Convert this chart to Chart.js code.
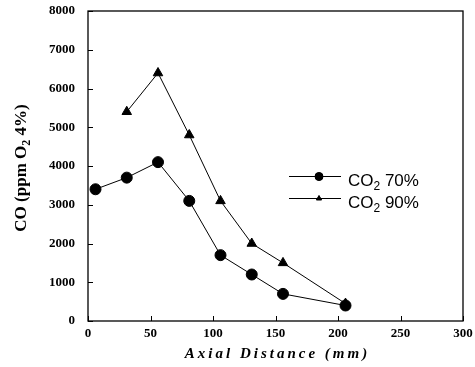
<!DOCTYPE html>
<html>
<head>
<meta charset="utf-8">
<script src="https://cdn.jsdelivr.net/npm/chart.js@4/dist/chart.umd.min.js"></script>
<style>
  html, body { margin: 0; padding: 0; background: #fff; }
  #wrap { width: 475px; height: 367px; }
</style>
</head>
<body>
<div id="wrap"><canvas id="coChart" width="475" height="367"></canvas></div>
<script>
// axial positions (mm) and CO readings (ppm, O2 4%)
const distance = [6, 31, 56, 81, 106, 131, 156, 206];
const co70 = [3400, 3700, 4100, 3100, 1700, 1200, 700, 400];
const distance90 = [31, 56, 81, 106, 131, 156, 206];
const co90 = [5400, 6400, 4800, 3100, 2000, 1500, 450];
const seriesNames = ["CO2 70%", "CO2 90%"];
const xTicks = [0, 50, 100, 150, 200, 250, 300];
const yTicks = [0, 1000, 2000, 3000, 4000, 5000, 6000, 7000, 8000];

const serif = "'Liberation Serif', 'DejaVu Serif', serif";
const sans = "'Liberation Sans', Arial, sans-serif";

function toPoints(xs, ys) {
  return xs.map((x, i) => ({ x: x, y: ys[i] }));
}

// draws "CO2 ..." style text with the 2 lowered as subscript
function subText(ctx, x, y, pre, sub, post, size, family, weight) {
  ctx.font = weight + " " + size + "px " + family;
  ctx.fillText(pre, x, y);
  x += ctx.measureText(pre).width;
  ctx.font = weight + " " + Math.round(size * 0.72) + "px " + family;
  ctx.fillText(sub, x, y + size * 0.22);
  x += ctx.measureText(sub).width;
  ctx.font = weight + " " + size + "px " + family;
  ctx.fillText(post, x, y);
  return x + ctx.measureText(post).width;
}

const framePlugin = {
  id: "frame",
  afterDraw(chart) {
    const ctx = chart.ctx;
    const a = chart.chartArea;
    const xs = chart.scales.x, ys = chart.scales.y;
    ctx.save();
    ctx.strokeStyle = "#000";
    ctx.lineWidth = 1.3;
    ctx.strokeRect(a.left, a.top, a.right - a.left, a.bottom - a.top);

    // inward tick marks
    ctx.lineWidth = 1;
    ctx.beginPath();
    xTicks.forEach(v => {
      const px = Math.round(xs.getPixelForValue(v)) + 0.5;
      ctx.moveTo(px, a.bottom);
      ctx.lineTo(px, a.bottom - 5);
    });
    yTicks.forEach(v => {
      const py = Math.round(ys.getPixelForValue(v)) + 0.5;
      ctx.moveTo(a.left, py);
      ctx.lineTo(a.left + 5, py);
    });
    ctx.stroke();

    // axis titles
    ctx.fillStyle = "#000";
    ctx.textBaseline = "alphabetic";
    ctx.font = "italic bold 15px " + serif;
    ctx.letterSpacing = "3px";
    ctx.textAlign = "center";
    ctx.fillText("Axial Distance (mm)", (a.left + a.right) / 2 + 2, 358);
    ctx.letterSpacing = "0px";

    ctx.save();
    ctx.translate(26, (a.top + a.bottom) / 2);
    ctx.rotate(-Math.PI / 2);
    ctx.textAlign = "left";
    ctx.font = "bold 17px " + serif;
    const full = ctx.measureText("CO (ppm O").width + 10 + ctx.measureText(" 4%)").width;
    subText(ctx, -full / 2, 0, "CO (ppm O", "2", " 4%)", 17, serif, "bold");
    ctx.restore();

    // legend
    const rows = [
      { y: 176, style: "circle", r: 4, name: seriesNames[0] },
      { y: 198, style: "triangle", r: 3, name: seriesNames[1] }
    ];
    rows.forEach(row => {
      ctx.beginPath();
      ctx.lineWidth = 1;
      ctx.moveTo(289, row.y + 0.5);
      ctx.lineTo(341, row.y + 0.5);
      ctx.stroke();
      Chart.helpers.drawPoint(ctx, { pointStyle: row.style, radius: row.r, rotation: 0, borderWidth: 1 }, 319, row.y + 0.5);
      ctx.fill();
      ctx.textAlign = "left";
      const parts = row.name.split(" ");
      subText(ctx, 348, row.y + 10, "CO", "2", " " + parts[1], 17, sans, "normal");
    });
    ctx.restore();
  }
};

new Chart(document.getElementById("coChart"), {
  type: "scatter",
  data: {
    datasets: [
      {
        label: seriesNames[0],
        data: toPoints(distance, co70),
        showLine: true,
        borderColor: "#000",
        backgroundColor: "#000",
        borderWidth: 1,
        pointStyle: "circle",
        pointRadius: 5.5,
        pointHoverRadius: 5.5
      },
      {
        label: seriesNames[1],
        data: toPoints(distance90, co90),
        showLine: true,
        borderColor: "#000",
        backgroundColor: "#000",
        borderWidth: 1,
        pointStyle: "triangle",
        pointRadius: 5.5,
        pointHoverRadius: 5.5
      }
    ]
  },
  options: {
    responsive: false,
    animation: false,
    layout: { padding: { top: 11, right: 12, left: 0, bottom: 0 } },
    plugins: {
      legend: { display: false },
      tooltip: { enabled: false }
    },
    scales: {
      x: {
        type: "linear",
        min: 0,
        max: 300,
        afterBuildTicks: s => { s.ticks = xTicks.map(v => ({ value: v })); },
        afterFit: s => { s.height = 46; s.paddingLeft = 0; s.paddingRight = 0; },
        grid: { display: false, drawTicks: false },
        border: { display: false },
        ticks: {
          padding: 5,
          color: "#000",
          callback: v => String(v),
          font: { family: serif, size: 13, weight: "bold" }
        }
      },
      y: {
        min: 0,
        max: 8000,
        afterBuildTicks: s => { s.ticks = yTicks.map(v => ({ value: v })); },
        afterFit: s => { s.width = 88; s.paddingTop = 0; s.paddingBottom = 0; },
        grid: { display: false, drawTicks: false },
        border: { display: false },
        ticks: {
          padding: 13,
          color: "#000",
          callback: v => String(v),
          font: { family: serif, size: 13, weight: "bold" }
        }
      }
    }
  },
  plugins: [framePlugin]
});
</script>
</body>
</html>
